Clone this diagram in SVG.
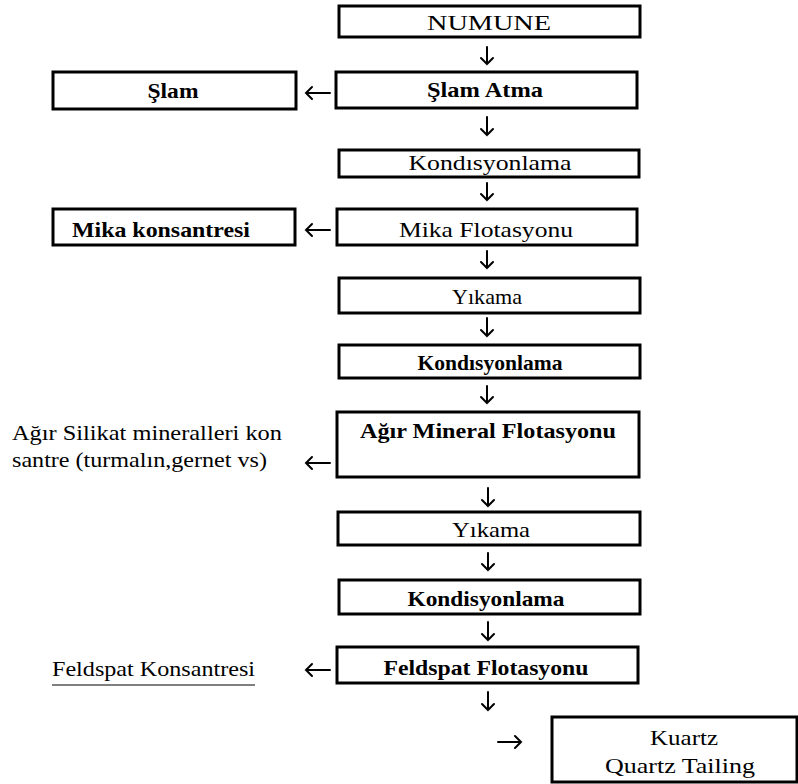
<svg xmlns="http://www.w3.org/2000/svg" width="798" height="784" viewBox="0 0 798 784">
<style>
.box{fill:#fff;stroke:#000;stroke-width:3}
.t{font-family:"Liberation Serif","Times New Roman",serif;font-size:22px;fill:#000;text-anchor:middle}
.b{font-weight:bold}
.side{font-family:"Liberation Serif","Times New Roman",serif;font-size:22px;fill:#000}
.arr{fill:none;stroke:#000;stroke-width:2;stroke-linecap:round;stroke-linejoin:miter}
</style>
<rect width="798" height="784" fill="#fff"/>
<g id="numune"><rect class="box" x="339" y="6" width="301" height="31"/><text class="t" x="489" y="30" textLength="124" lengthAdjust="spacingAndGlyphs">NUMUNE</text></g>
<g id="slamatma"><rect class="box" x="336" y="72" width="301" height="36"/><text class="t b" x="485" y="97" textLength="116" lengthAdjust="spacingAndGlyphs">Şlam Atma</text></g>
<g id="slam"><rect class="box" x="53" y="72" width="243" height="37"/><text class="t b" x="173" y="98" textLength="51" lengthAdjust="spacingAndGlyphs">Şlam</text></g>
<g id="kond1"><rect class="box" x="339" y="150" width="300" height="27"/><text class="t" x="490" y="170" textLength="163" lengthAdjust="spacingAndGlyphs">Kondısyonlama</text></g>
<g id="mikaflot"><rect class="box" x="337" y="209" width="300" height="36"/><text class="t" x="486" y="237" textLength="174" lengthAdjust="spacingAndGlyphs">Mika Flotasyonu</text></g>
<g id="mikakons"><rect class="box" x="53" y="209" width="242" height="36"/><text class="t b" x="161" y="237" textLength="178" lengthAdjust="spacingAndGlyphs">Mika konsantresi</text></g>
<g id="yikama1"><rect class="box" x="339" y="278" width="301" height="35"/><text class="t" x="487" y="304" textLength="70" lengthAdjust="spacingAndGlyphs">Yıkama</text></g>
<g id="kond2"><rect class="box" x="339" y="345" width="301" height="33"/><text class="t b" x="490" y="370" textLength="145" lengthAdjust="spacingAndGlyphs">Kondısyonlama</text></g>
<g id="agirflot"><rect class="box" x="337" y="412" width="302" height="65"/><text class="t b" x="488" y="438" textLength="256" lengthAdjust="spacingAndGlyphs">Ağır Mineral Flotasyonu</text></g>
<g id="agirkons"><text class="side" x="12" y="440" textLength="270" lengthAdjust="spacingAndGlyphs">Ağır  Silikat  mineralleri  kon</text><text class="side" x="12" y="467" textLength="255" lengthAdjust="spacingAndGlyphs">santre  (turmalın,gernet vs)</text></g>
<g id="yikama2"><rect class="box" x="338" y="512" width="302" height="33"/><text class="t" x="491" y="537" textLength="78" lengthAdjust="spacingAndGlyphs">Yıkama</text></g>
<g id="kond3"><rect class="box" x="339" y="580" width="301" height="34"/><text class="t b" x="486" y="606" textLength="157" lengthAdjust="spacingAndGlyphs">Kondisyonlama</text></g>
<g id="feldflot"><rect class="box" x="337" y="647" width="301" height="36"/><text class="t b" x="486" y="675" textLength="205" lengthAdjust="spacingAndGlyphs">Feldspat Flotasyonu</text></g>
<g id="feldkons"><text class="side" x="52" y="676" textLength="203" lengthAdjust="spacingAndGlyphs">Feldspat  Konsantresi</text><line x1="52" y1="685" x2="255" y2="685" stroke="#000" stroke-width="1.2"/></g>
<g id="kuartz"><rect class="box" x="552" y="717" width="245" height="65"/><text class="t" x="684" y="745" textLength="68" lengthAdjust="spacingAndGlyphs">Kuartz</text><text class="t" x="680" y="773" textLength="150" lengthAdjust="spacingAndGlyphs">Quartz Tailing</text></g>
<g id="connectors">
<path class="arr" d="M487 47V64M481 58L487 64L493 58"/>
<path class="arr" d="M487 117V135M481 129L487 135L493 129"/>
<path class="arr" d="M487 183V200M481 194L487 200L493 194"/>
<path class="arr" d="M487 251V268M481 262L487 268L493 262"/>
<path class="arr" d="M487 318V336M481 330L487 336L493 330"/>
<path class="arr" d="M487 386V403M481 397L487 403L493 397"/>
<path class="arr" d="M488 488V506M482 500L488 506L494 500"/>
<path class="arr" d="M488 553V570M482 564L488 570L494 564"/>
<path class="arr" d="M488 622V640M482 634L488 640L494 634"/>
<path class="arr" d="M488 692V710M482 704L488 710L494 704"/>
<path class="arr" d="M330 93H306M312 87L306 93L312 99"/>
<path class="arr" d="M330 230H306M312 224L306 230L312 236"/>
<path class="arr" d="M330 463H306M312 457L306 463L312 469"/>
<path class="arr" d="M330 670H306M312 664L306 670L312 676"/>
<path class="arr" d="M498 742H521M515 736L521 742L515 748"/>
</g>
</svg>
